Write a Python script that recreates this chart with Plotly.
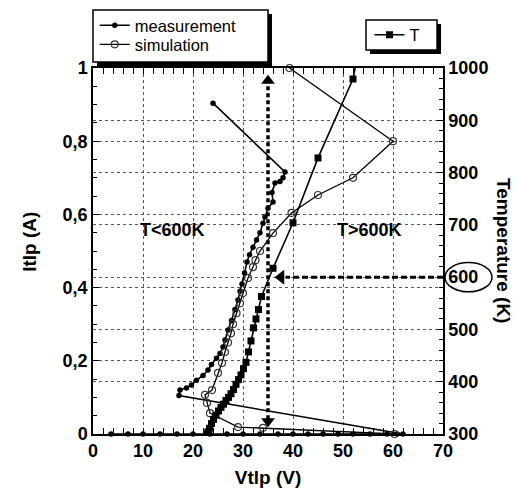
import plotly.graph_objects as go

# Measured TLP characteristic: voltage (V) and current (A)
meas_v = [3.6, 7.0, 10.0, 13.4, 16.8, 20.0, 23.4, 26.8, 30.0, 33.4, 37.0, 40.0, 43.0,
          46.0, 49.0, 52.0, 55.4, 58.8, 60.8, 62.0,
          17.2, 17.4, 18.7, 19.7, 20.7, 22.0, 23.0, 23.7, 24.7, 25.4, 26.0, 26.4, 27.0,
          27.7, 28.4, 29.0, 29.4, 29.8, 30.3, 30.8, 31.3, 32.0, 32.7, 33.4, 34.0, 34.4,
          35.0, 36.0, 35.8, 36.4, 37.4, 38.0, 38.4, 24.0]
meas_i = [0.0] * 20 + [
          0.105, 0.12, 0.126, 0.134, 0.147, 0.16, 0.175, 0.19, 0.207, 0.22, 0.238, 0.257,
          0.284, 0.31, 0.34, 0.366, 0.39, 0.41, 0.44, 0.47, 0.49, 0.51, 0.53, 0.55, 0.576,
          0.593, 0.617, 0.634, 0.66, 0.686, 0.69, 0.70, 0.716, 0.904]

# Simulated TLP characteristic
sim_v = [60.3, 34.0, 29.0, 23.4, 22.8, 22.4, 23.8, 25.0, 25.8, 26.4, 27.0, 27.6, 28.0,
         28.7, 29.4, 30.0, 31.0, 32.0, 32.5, 33.4, 36.0, 39.7, 45.0, 52.0, 60.0, 39.3]
sim_i = [0.0, 0.017, 0.019, 0.057, 0.085, 0.107, 0.12, 0.167, 0.194, 0.224, 0.25, 0.275,
         0.30, 0.33, 0.357, 0.385, 0.426, 0.456, 0.475, 0.50, 0.549, 0.604, 0.653, 0.70,
         0.80, 1.0]

# Simulated device temperature (K) versus voltage
temp_v = [22.8, 23.0, 23.3, 23.7, 24.1, 24.6, 25.1, 25.6, 26.1, 26.6, 27.1, 27.6, 28.1,
          28.6, 29.1, 29.6, 30.1, 30.6, 31.1, 31.6, 32.1, 32.6, 33.1, 33.7, 36.0, 40.0,
          45.0, 52.0, 52.7]
temp_k = [300, 304, 311, 320, 328, 336, 344, 351, 357, 364, 370, 377, 385, 395, 404, 413,
          425, 437, 457, 478, 503, 520, 538, 563, 617, 704, 828, 979, 1014]

# Marked operating point
mark_v = 35
mark_t = 600

x_ticks = [0, 10, 20, 30, 40, 50, 60, 70]
i_ticks = [0, 0.2, 0.4, 0.6, 0.8, 1]
i_labels = ["0", "0,2", "0,4", "0,6", "0,8", "1"]
t_ticks = [300, 400, 500, 600, 700, 800, 900, 1000]

FONT = "Liberation Sans"
INK = "black"
GRID = "#555555"

fig = go.Figure()

fig.add_trace(go.Scatter(
    x=meas_v, y=meas_i, name="measurement", mode="lines+markers",
    line=dict(color=INK, width=1.6), cliponaxis=False,
    marker=dict(symbol="circle", size=5.5, color=INK),
    legend="legend"))

fig.add_trace(go.Scatter(
    x=sim_v, y=sim_i, name="simulation", mode="lines+markers",
    line=dict(color=INK, width=1.3), cliponaxis=False,
    marker=dict(symbol="circle-open", size=7, color="#333333", line=dict(width=1.2)),
    legend="legend3"))

fig.add_trace(go.Scatter(
    x=temp_v, y=temp_k, name="T", mode="lines+markers", yaxis="y2",
    line=dict(color=INK, width=1.6),
    marker=dict(symbol="square", size=7, color=INK),
    legend="legend2"))

# Vertical dotted double arrow at the marked voltage
fig.add_trace(go.Scatter(
    x=[mark_v, mark_v], y=[0.04, 0.96], mode="lines", showlegend=False,
    line=dict(color=INK, width=3.5, dash="4px,3px"), hoverinfo="skip"))
fig.add_trace(go.Scatter(
    x=[mark_v, mark_v], y=[0.965, 0.035], mode="markers", showlegend=False,
    marker=dict(symbol=["triangle-up", "triangle-down"], size=12, color=INK),
    hoverinfo="skip"))

# Horizontal dashed arrow at the 600 K level
fig.add_trace(go.Scatter(
    x=[70, 38.5], y=[mark_t, mark_t], mode="lines", yaxis="y2", showlegend=False,
    line=dict(color=INK, width=3, dash="6px,3px"), hoverinfo="skip"))
fig.add_trace(go.Scatter(
    x=[37.6], y=[mark_t], mode="markers", yaxis="y2", showlegend=False,
    marker=dict(symbol="triangle-left", size=13, color=INK), hoverinfo="skip"))

axis_common = dict(
    showline=True, linecolor=INK, linewidth=1.5,
    ticks="inside", ticklen=6, tickcolor=INK, tickwidth=1,
    showgrid=True, gridcolor=GRID, griddash="dot", gridwidth=1,
    zeroline=False,
    tickfont=dict(family=FONT, size=18, color=INK, weight="bold"),
)

legend_common = dict(
    xanchor="left", yanchor="middle",
    bgcolor="rgba(0,0,0,0)", borderwidth=0,
    font=dict(family=FONT, size=16.5, color=INK),
    itemwidth=30,
)

fig.update_layout(
    width=519, height=489,
    margin=dict(l=93, r=76, t=68, b=55, autoexpand=False),
    paper_bgcolor="white", plot_bgcolor="white",
    font=dict(family=FONT, color=INK),
    xaxis=dict(range=[0, 70], tickvals=x_ticks, mirror="allticks",
               minor=dict(dtick=2, ticks="inside", ticklen=4, tickcolor=INK, showgrid=False),
               title=dict(text="Vtlp (V)", font=dict(family=FONT, size=19, weight="bold"),
                          standoff=10),
               **axis_common),
    yaxis=dict(range=[0, 1], tickvals=i_ticks, ticktext=i_labels, mirror=True,
               minor=dict(dtick=0.05, ticks="inside", ticklen=4, tickcolor=INK, showgrid=False),
               **axis_common),
    yaxis2=dict(range=[300, 1000], tickvals=t_ticks, overlaying="y", side="right",
                minor=dict(dtick=20, ticks="inside", ticklen=4, tickcolor=INK, showgrid=False),
                **axis_common),
    legend=dict(x=0.005, y=1.116, **legend_common),
    legend3=dict(x=0.005, y=1.064, **legend_common),
    legend2=dict(x=0.79, y=1.09, **legend_common),
    showlegend=True,
)

# Legend frames with drop shadows
def boxed(x0, y0, x1, y1, off_x=0.0114, off_y=0.011):
    fig.add_shape(type="rect", xref="paper", yref="paper",
                  x0=x0 + off_x, x1=x1 + off_x, y0=y0 - off_y, y1=y1 - off_y,
                  fillcolor=INK, line=dict(width=0))
    fig.add_shape(type="rect", xref="paper", yref="paper",
                  x0=x0, x1=x1, y0=y0, y1=y1,
                  fillcolor="white", line=dict(color=INK, width=1.5))

boxed(0.0, 1.0164, 0.5, 1.1585)
boxed(0.78, 1.049, 0.983, 1.131)

# Circle around the 600 K tick label
fig.add_shape(type="circle", xref="paper", yref="y2",
              x0=1.0057, x1=1.14, y0=572, y1=628,
              line=dict(color=INK, width=1.5))

fig.add_annotation(text="T<600K", x=15.8, y=0.557, xref="x", yref="y", showarrow=False,
                   font=dict(family=FONT, size=18, weight="bold", color=INK))
fig.add_annotation(text="T>600K", x=55.2, y=0.557, xref="x", yref="y", showarrow=False,
                   font=dict(family=FONT, size=18, weight="bold", color=INK))

fig.add_annotation(text="Itlp (A)", x=-0.18, y=0.525, xref="paper", yref="paper",
                   xanchor="center", yanchor="middle", showarrow=False, textangle=-90,
                   font=dict(family=FONT, size=19, weight="bold", color=INK))
fig.add_annotation(text="Temperature (K)", x=1.174, y=0.5, xref="paper", yref="paper",
                   xanchor="center", yanchor="middle", showarrow=False, textangle=90,
                   font=dict(family=FONT, size=19, weight="bold", color=INK))

fig.write_html("out.html")
